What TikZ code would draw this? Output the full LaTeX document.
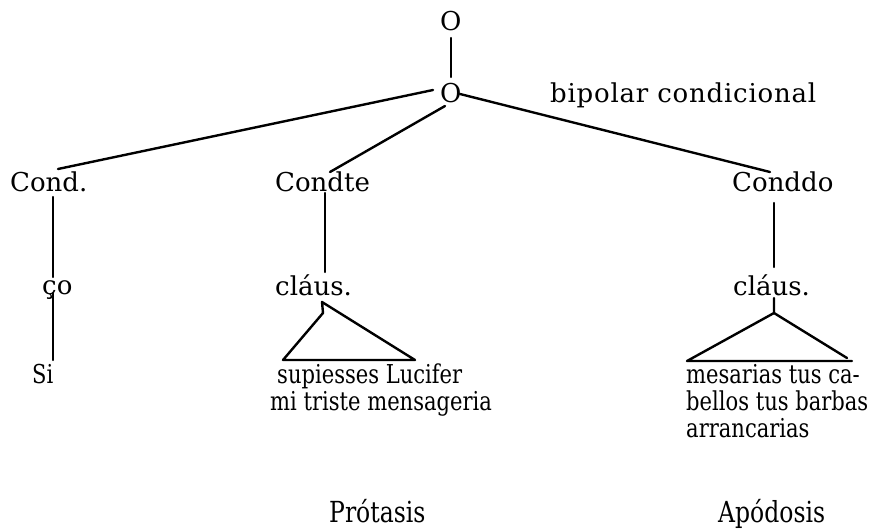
\documentclass[tikz,border=0pt]{standalone}
\usepackage{fontspec}
\setmainfont{DejaVu Serif}
\newfontfamily\leaffont[FakeStretch=0.81]{DejaVu Serif}
\begin{document}
\begin{tikzpicture}[x=1pt,y=-1pt,
  lbl/.style={inner sep=0pt, anchor=base west, font=\fontsize{26}{26}\selectfont},
  leaf/.style={inner sep=0pt, anchor=base west, font=\leaffont\fontsize{26}{26}\selectfont},
  part/.style={inner sep=0pt, anchor=base west, font=\leaffont\fontsize{29}{29}\selectfont},
  edge/.style={line width=2.4pt, line cap=round, line join=round}]
\useasboundingbox (0,0) rectangle (888,530);
% labels
\node[lbl] (o1) at (440,30) {O};
\node[lbl] (o2) at (440,102) {O};
\node[lbl, font=\fontsize{26}{26}\selectfont\addfontfeature{LetterSpace=3}] (bip) at (550,102) {bipolar condicional};
\node[lbl] (cond) at (10,191) {Cond.};
\node[lbl] (condte) at (275,191) {Condte};
\node[lbl] (conddo) at (732,191) {Conddo};
\node[lbl] (co) at (42,294) {ço};
\node[lbl] (claus1) at (275,295) {cláus.};
\node[lbl] (claus2) at (733,295) {cláus.};
\node[leaf] (si) at (32,383) {Si};
\node[leaf] (sup) at (277,383) {supiesses Lucifer};
\node[leaf] (mi) at (270,410) {mi triste mensageria};
\node[leaf] (mes) at (686,383) {mesarias tus ca-};
\node[leaf] (bel) at (686,410) {bellos tus barbas};
\node[leaf] (arr) at (686,437) {arrancarias};
\node[part] (prot) at (329,522) {Prótasis};
\node[part] (apod) at (718,522) {Apódosis};
% connector end points
\coordinate (o1b) at (451,38);
\coordinate (o2t) at (451,77);
\coordinate (o2l) at (433,90);
\coordinate (o2d) at (445,106);
\coordinate (o2r) at (460,94);
\coordinate (condt) at (58,169);
\coordinate (condtet) at (330,172);
\coordinate (conddot) at (770,172);
\coordinate (condb) at (53,197);
\coordinate (cot) at (53,277);
\coordinate (cob) at (53,293);
\coordinate (sit) at (53,360);
\coordinate (condteb) at (325,193);
\coordinate (c1t) at (325,272);
\coordinate (c1b) at (322,302);
\coordinate (a1) at (323,313);
\coordinate (l1) at (283,360);
\coordinate (r1) at (415,360);
\coordinate (conddob) at (774,203);
\coordinate (c2t) at (774,267);
\coordinate (c2b) at (774,298);
\coordinate (a2) at (774,313);
\coordinate (l2) at (687,361);
\coordinate (r2) at (852,361);
\coordinate (r2s) at (847,358);
% connectors
\draw[edge] (o1b) -- (o2t);
\draw[edge] (o2l) -- (condt);
\draw[edge] (o2d) -- (condtet);
\draw[edge] (o2r) -- (conddot);
\draw[edge] (condb) -- (cot);
\draw[edge] (cob) -- (sit);
\draw[edge] (condteb) -- (c1t);
\draw[edge] (c1b) -- (a1) -- (l1) -- (r1) -- cycle;
\draw[edge] (conddob) -- (c2t);
\draw[edge] (c2b) -- (a2) -- (l2) -- (r2);
\draw[edge] (a2) -- (r2s);
\end{tikzpicture}
\end{document}
